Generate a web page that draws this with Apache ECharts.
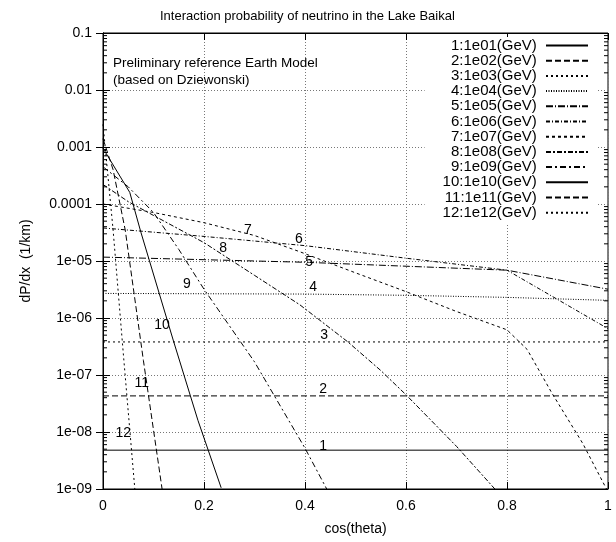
<!DOCTYPE html>
<html>
<head>
<meta charset="utf-8">
<script src="https://cdn.jsdelivr.net/npm/echarts@6/dist/echarts.min.js"></script>
<style>html,body{margin:0;padding:0;background:#fff}#c{width:616px;height:542px}</style>
</head>
<body>
<div id="c"></div>
<script>
// ---- data ----
const seriesNames = ['1:1e01(GeV)','2:1e02(GeV)','3:1e03(GeV)','4:1e04(GeV)','5:1e05(GeV)','6:1e06(GeV)',
                     '7:1e07(GeV)','8:1e08(GeV)','9:1e09(GeV)','10:1e10(GeV)','11:1e11(GeV)','12:1e12(GeV)'];
const x1 = [0, 1];                 const y1 = [4.8e-9, 4.8e-9];
const x2 = [0, 1];                 const y2 = [4.3e-8, 4.3e-8];
const x3 = [0, 1];                 const y3 = [3.8e-7, 3.8e-7];
const x4 = [0, 0.4, 0.6, 0.8, 1];  const y4 = [2.7e-6, 2.63e-6, 2.5e-6, 2.3e-6, 2.04e-6];
const x5 = [0, 0.4, 0.6, 0.8, 1];  const y5 = [1.17e-5, 9.5e-6, 8.1e-6, 6.9e-6, 3.2e-6];
const x6 = [0, 0.2, 0.4, 0.6, 0.8, 1]; const y6 = [3.8e-5, 2.7e-5, 1.86e-5, 1.12e-5, 6.9e-6, 6.5e-7];
const x7 = [0, 0.1, 0.2, 0.3, 0.39, 0.5, 0.6, 0.7, 0.8, 0.84, 0.889, 0.95, 1.0];
const y7 = [1.0e-4, 7.1e-5, 4.7e-5, 2.8e-5, 1.45e-5, 6.2e-6, 2.9e-6, 1.3e-6, 6.2e-7, 2.8e-7, 4.8e-8, 6.3e-9, 8.9e-10];
const x8 = [0, 0.05, 0.1, 0.2, 0.3, 0.39, 0.485, 0.55, 0.6, 0.7, 0.776];
const y8 = [2.2e-4, 1.1e-4, 6.3e-5, 2.1e-5, 5.6e-6, 1.7e-6, 3.8e-7, 1.2e-7, 4.5e-8, 5.6e-9, 1.0e-9];
const x9 = [0, 0.05, 0.1, 0.15, 0.2, 0.3, 0.4, 0.443];
const y9 = [4.5e-4, 2.0e-4, 7.1e-5, 1.6e-5, 3.2e-6, 1.7e-7, 5.2e-9, 1.0e-9];
const x10 = [0, 0.053, 0.075, 0.139, 0.188, 0.234];
const y10 = [9.5e-4, 1.6e-4, 3.2e-5, 4.1e-7, 1.6e-8, 1.05e-9];
const x11 = [0, 0.02, 0.044, 0.08, 0.117];
const y11 = [1.4e-3, 4.0e-4, 3.5e-5, 1.8e-7, 1.0e-9];
const x12 = [0, 0.02, 0.04, 0.063];
const y12 = [2.5e-3, 3.5e-5, 2.5e-7, 1.0e-9];

const curveTags = ['1','2','3','4','5','6','7','8','9','10','11','12'];
const tagX = [0.436, 0.436, 0.438, 0.416, 0.408, 0.388, 0.287, 0.238, 0.166, 0.117, 0.077, 0.040];
const tagY = [5.6e-9, 5.6e-8, 5.0e-7, 3.5e-6, 9.5e-6, 2.45e-5, 3.5e-5, 1.7e-5, 4.0e-6, 7.6e-7, 7.2e-8, 9.5e-9];

const xTickLabels = ['0','0.2','0.4','0.6','0.8','1'];
const yTickLabels = ['1e-09','1e-08','1e-07','1e-06','1e-05','0.0001','0.001','0.01','0.1'];

// ---- build ----
const xs = [x1,x2,x3,x4,x5,x6,x7,x8,x9,x10,x11,x12];
const ys = [y1,y2,y3,y4,y5,y6,y7,y8,y9,y10,y11,y12];
const dashes = ['solid',[6,3],[2,3],[1,1.5],[7,2,1,2],[4,2,1,2],[3,3],[5,2,2,2],[6,3,2,3],'solid',[6,3],[2,3]];
const FONT = 'Liberation Sans';

const lineSeries = seriesNames.map((n, i) => ({
  name: n, type: 'line', symbol: 'none', showSymbol: false, animation: false, z: 3,
  data: xs[i].map((x, j) => [x, ys[i][j]]),
  lineStyle: { color: '#000', width: 1, type: dashes[i] }, itemStyle: { color: '#000' }
}));

const minorTicks = [];
for (let k = -9; k < -1; k++) for (let m = 2; m <= 9; m++) minorTicks.push([0, m * Math.pow(10, k)]);

const option = {
  animation: false,
  backgroundColor: '#fff',
  textStyle: { fontFamily: FONT },
  title: { text: 'Interaction probability of neutrino in the Lake Baikal', left: 155, top: 5,
           textStyle: { fontFamily: FONT, fontSize: 13, fontWeight: 'normal', color: '#000' } },
  grid: { left: 103, right: 8, top: 33, bottom: 53, show: true, borderColor: '#000', borderWidth: 1, backgroundColor: 'transparent' },
  legend: {
    data: seriesNames, orient: 'vertical', right: 19, top: 37, align: 'right',
    itemWidth: 42, itemHeight: 10, itemGap: 0.2,
    formatter: n => n + ' ',
    itemStyle: { color: 'rgba(0,0,0,0)', borderColor: 'rgba(0,0,0,0)', borderWidth: 0 },
    textStyle: { fontFamily: FONT, fontSize: 15, color: '#000', lineHeight: 15 },
    backgroundColor: '#fff', padding: [1, 8, 4, 18], selectedMode: false
  },
  xAxis: [
    { type: 'value', min: 0, max: 1, interval: 0.2, position: 'bottom',
      name: 'cos(theta)', nameLocation: 'middle', nameGap: 33,
      nameTextStyle: { fontFamily: FONT, fontSize: 14, color: '#000' },
      axisLine: { show: true, lineStyle: { color: '#000' } },
      axisTick: { show: true, inside: true, length: 7, lineStyle: { color: '#000' } },
      axisLabel: { fontFamily: FONT, fontSize: 14, color: '#000', margin: 10,
                   formatter: v => xTickLabels[Math.round(v * 5)] },
      splitLine: { show: true, lineStyle: { color: '#777', type: [1, 2], width: 1 } } },
    { type: 'value', min: 0, max: 1, interval: 0.2, position: 'top',
      axisLine: { show: true, lineStyle: { color: '#000' } },
      axisTick: { show: true, inside: true, length: 7, lineStyle: { color: '#000' } },
      axisLabel: { show: false }, splitLine: { show: false } }
  ],
  yAxis: [
    { type: 'log', logBase: 10, min: 1e-9, max: 0.1, splitNumber: 8, position: 'left',
      name: 'dP/dx  (1/km)', nameLocation: 'middle', nameGap: 70, nameRotate: 90,
      nameTextStyle: { fontFamily: FONT, fontSize: 14, color: '#000' },
      axisLine: { show: true, lineStyle: { color: '#000' } },
      axisTick: { show: true, inside: true, length: 7, lineStyle: { color: '#000' } },
      axisLabel: { fontFamily: FONT, fontSize: 14, color: '#000', margin: 11,
                   formatter: v => yTickLabels[Math.round(Math.log10(v)) + 9] },
      splitLine: { show: true, lineStyle: { color: '#777', type: [1, 2], width: 1 } } },
    { type: 'log', logBase: 10, min: 1e-9, max: 0.1, splitNumber: 8, position: 'right',
      axisLine: { show: true, lineStyle: { color: '#000' } },
      axisTick: { show: true, inside: true, length: 7, lineStyle: { color: '#000' } },
      axisLabel: { show: false }, splitLine: { show: false } }
  ],
  graphic: [
    { type: 'text', left: 113, top: 55, z: 10,
      style: { text: 'Preliminary reference Earth Model\n(based on Dziewonski)', fontFamily: FONT, fontSize: 13.5,
               lineHeight: 17, fill: '#000' } }
  ],
  series: lineSeries.concat([
    { type: 'custom', silent: true, xAxisIndex: 0, yAxisIndex: 0, z: 4, data: minorTicks,
      renderItem: (params, api) => {
        const v = api.value(1);
        const pl = api.coord([0, v]), pr = api.coord([1, v]);
        return { type: 'group', children: [
          { type: 'line', shape: { x1: pl[0], y1: pl[1], x2: pl[0] + 4, y2: pl[1] }, style: { stroke: '#000', lineWidth: 1 } },
          { type: 'line', shape: { x1: pr[0] - 4, y1: pr[1], x2: pr[0], y2: pr[1] }, style: { stroke: '#000', lineWidth: 1 } }
        ]};
      } },
    { type: 'scatter', silent: true, symbolSize: 1, itemStyle: { color: '#fff', opacity: 1 }, z: 5,
      data: curveTags.map((t, i) => ({ value: [tagX[i], tagY[i]], name: t })),
      label: { show: true, position: 'inside', formatter: p => p.name, fontFamily: FONT, fontSize: 14,
               color: '#000', opacity: 1, textBorderWidth: 0 } }
  ])
};
const chart = echarts.init(document.getElementById('c'), null, { renderer: 'canvas' });
chart.setOption(option);
</script>
</body>
</html>
